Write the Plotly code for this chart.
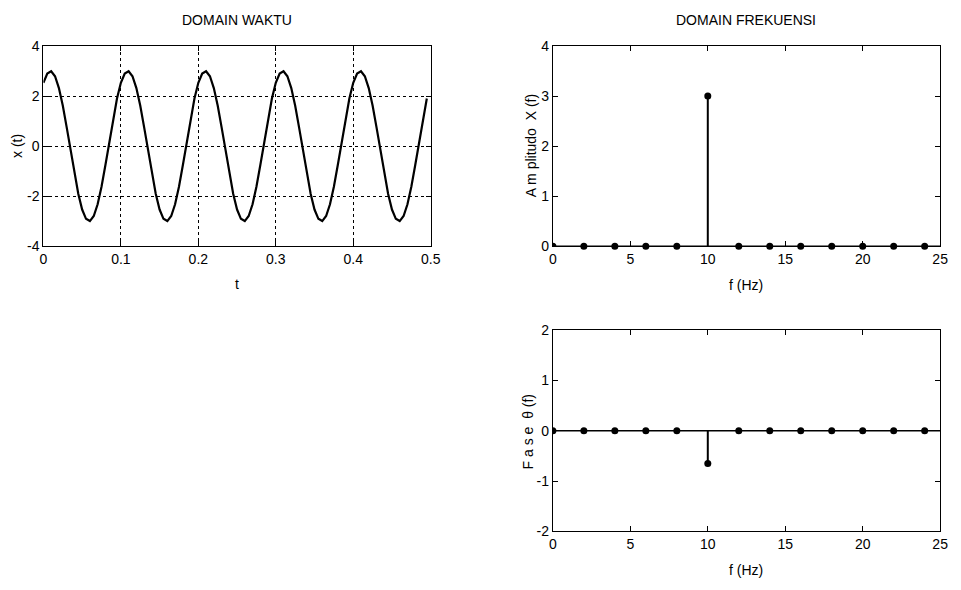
import plotly.graph_objects as go

FONT = "Liberation Sans Narrow, Arial Narrow, Liberation Sans, Arial, sans-serif"

# ---------------- data ----------------
t = [0.000, 0.005, 0.010, 0.015, 0.020, 0.025, 0.030, 0.035, 0.040, 0.045,
     0.050, 0.055, 0.060, 0.065, 0.070, 0.075, 0.080, 0.085, 0.090, 0.095,
     0.100, 0.105, 0.110, 0.115, 0.120, 0.125, 0.130, 0.135, 0.140, 0.145,
     0.150, 0.155, 0.160, 0.165, 0.170, 0.175, 0.180, 0.185, 0.190, 0.195,
     0.200, 0.205, 0.210, 0.215, 0.220, 0.225, 0.230, 0.235, 0.240, 0.245,
     0.250, 0.255, 0.260, 0.265, 0.270, 0.275, 0.280, 0.285, 0.290, 0.295,
     0.300, 0.305, 0.310, 0.315, 0.320, 0.325, 0.330, 0.335, 0.340, 0.345,
     0.350, 0.355, 0.360, 0.365, 0.370, 0.375, 0.380, 0.385, 0.390, 0.395,
     0.400, 0.405, 0.410, 0.415, 0.420, 0.425, 0.430, 0.435, 0.440, 0.445,
     0.450, 0.455, 0.460, 0.465, 0.470, 0.475, 0.480, 0.485, 0.490, 0.495]
x_t = [2.53, 2.90, 2.99, 2.79, 2.32, 1.62, 0.76, -0.17, -1.09, -1.90,
       -2.53, -2.90, -2.99, -2.79, -2.32, -1.62, -0.76, 0.17, 1.09, 1.90,
       2.53, 2.90, 2.99, 2.79, 2.32, 1.62, 0.76, -0.17, -1.09, -1.90,
       -2.53, -2.90, -2.99, -2.79, -2.32, -1.62, -0.76, 0.17, 1.09, 1.90,
       2.53, 2.90, 2.99, 2.79, 2.32, 1.62, 0.76, -0.17, -1.09, -1.90,
       -2.53, -2.90, -2.99, -2.79, -2.32, -1.62, -0.76, 0.17, 1.09, 1.90,
       2.53, 2.90, 2.99, 2.79, 2.32, 1.62, 0.76, -0.17, -1.09, -1.90,
       -2.53, -2.90, -2.99, -2.79, -2.32, -1.62, -0.76, 0.17, 1.09, 1.90,
       2.53, 2.90, 2.99, 2.79, 2.32, 1.62, 0.76, -0.17, -1.09, -1.90,
       -2.53, -2.90, -2.99, -2.79, -2.32, -1.62, -0.76, 0.17, 1.09, 1.90]

freq = [0, 2, 4, 6, 8, 10, 12, 14, 16, 18, 20, 22, 24]
amplitude = [0, 0, 0, 0, 0, 3.0, 0, 0, 0, 0, 0, 0, 0]
phase = [0, 0, 0, 0, 0, -0.65, 0, 0, 0, 0, 0, 0, 0]

t_ticks = [0, 0.1, 0.2, 0.3, 0.4, 0.5]
t_ticklabels = ["0", "0.1", "0.2", "0.3", "0.4", "0.5"]
xt_ticks = [-4, -2, 0, 2, 4]
xt_ticklabels = ["-4", "-2", "0", "2", "4"]
f_ticks = [0, 5, 10, 15, 20, 25]
f_ticklabels = ["0", "5", "10", "15", "20", "25"]
amp_ticks = [0, 1, 2, 3, 4]
amp_ticklabels = ["0", "1", "2", "3", "4"]
ph_ticks = [-2, -1, 0, 1, 2]
ph_ticklabels = ["-2", "-1", "0", "1", "2"]

W, H = 961, 590


def stems(xv, yv):
    xs, ys = [], []
    for a, b in zip(xv, yv):
        xs += [a, a, None]
        ys += [0, b, None]
    return xs, ys


fig = go.Figure()

# time domain
fig.add_trace(go.Scatter(x=t, y=x_t, mode="lines", line=dict(color="black", width=2.2),
                         xaxis="x", yaxis="y", showlegend=False, hoverinfo="skip"))

# amplitude spectrum
sx, sy = stems(freq, amplitude)
fig.add_trace(go.Scatter(x=sx, y=sy, mode="lines", line=dict(color="black", width=2),
                         xaxis="x2", yaxis="y2", showlegend=False, hoverinfo="skip"))
fig.add_trace(go.Scatter(x=freq[1:], y=amplitude[1:], mode="markers",
                         marker=dict(color="black", size=7), cliponaxis=False,
                         xaxis="x2", yaxis="y2", showlegend=False))
fig.add_trace(go.Scatter(x=freq[:1], y=amplitude[:1], mode="markers",
                         marker=dict(color="black", size=7), cliponaxis=True,
                         xaxis="x2", yaxis="y2", showlegend=False))

# phase spectrum
px_, py_ = stems(freq, phase)
fig.add_trace(go.Scatter(x=px_, y=py_, mode="lines", line=dict(color="black", width=2),
                         xaxis="x3", yaxis="y3", showlegend=False, hoverinfo="skip"))
fig.add_trace(go.Scatter(x=freq[1:], y=phase[1:], mode="markers",
                         marker=dict(color="black", size=7), cliponaxis=False,
                         xaxis="x3", yaxis="y3", showlegend=False))
fig.add_trace(go.Scatter(x=freq[:1], y=phase[:1], mode="markers",
                         marker=dict(color="black", size=7), cliponaxis=True,
                         xaxis="x3", yaxis="y3", showlegend=False))

tickfont = dict(family=FONT, size=14, color="black")
common = dict(showline=True, linecolor="black", linewidth=1.3, mirror="ticks",
              ticks="inside", ticklen=5, tickcolor="black", tickwidth=1,
              zeroline=False, showgrid=False, tickfont=tickfont, tickmode="array",
              fixedrange=True)

left_dom = [40 / W, 433 / W]
right_dom = [557 / W, 950 / W]
top_dom = [1 - 245 / H, 1 - 39 / H]
bot_dom = [1 - 538 / H, 1 - 331 / H]

grid = dict(showgrid=True, gridcolor="black", griddash="dot", gridwidth=1)

fig.update_layout(
    width=W, height=H, margin=dict(l=0, r=0, t=0, b=0),
    paper_bgcolor="white", plot_bgcolor="white",
    font=dict(family=FONT, size=14, color="black"),
    xaxis=dict(common, **grid, domain=left_dom, anchor="y", range=[0, 0.5],
               tickvals=t_ticks, ticktext=t_ticklabels),
    yaxis=dict(common, **grid, domain=top_dom, anchor="x", range=[-4, 4],
               tickvals=xt_ticks, ticktext=xt_ticklabels),
    xaxis2=dict(common, domain=right_dom, anchor="y2", range=[0, 25],
                tickvals=f_ticks, ticktext=f_ticklabels),
    yaxis2=dict(common, domain=top_dom, anchor="x2", range=[0, 4],
                tickvals=amp_ticks, ticktext=amp_ticklabels),
    xaxis3=dict(common, domain=right_dom, anchor="y3", range=[0, 25],
                tickvals=f_ticks, ticktext=f_ticklabels),
    yaxis3=dict(common, domain=bot_dom, anchor="x3", range=[-2, 2],
                tickvals=ph_ticks, ticktext=ph_ticklabels),
)

# stem baselines
for xr, yr in (("x2 domain", "y2"), ("x3 domain", "y3")):
    fig.add_shape(type="line", xref=xr, yref=yr, x0=0, x1=1, y0=0, y1=0,
                  line=dict(color="black", width=1.5), layer="above")

ann = [
    ("DOMAIN WAKTU", 236, 12, 0),
    ("t", 236, 284, 0),
    ("x (t)", 13, 142, -90),
    ("DOMAIN FREKUENSI", 753, 12, 0),
    ("f (Hz)", 753, 285, 0),
    ("A m plitudo  X (f)", 535, 142, -90),
    ("F a s e  θ (f)", 532, 436, -90),
    ("f (Hz)", 753, 578, 0),
]
for text, ax, ay, ang in ann:
    fig.add_annotation(text=text, x=ax / W, y=1 - ay / H, xref="paper", yref="paper",
                       showarrow=False, textangle=ang, xanchor="center", yanchor="middle",
                       font=dict(family=FONT, size=14, color="black"))

fig.write_html("out.html")
